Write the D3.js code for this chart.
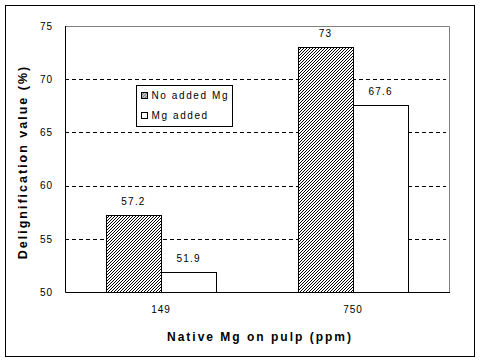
<!DOCTYPE html>
<html>
<head>
<meta charset="utf-8">
<script src="https://cdn.jsdelivr.net/npm/d3@7"></script>
<style>
  body { margin: 0; background: #fff; }
  text { font-family: Arial, "Liberation Sans", sans-serif; }
</style>
</head>
<body>
<div id="chart"></div>
<script>
// data
var categories = ['149', '750'];
var seriesNames = ['No added Mg', 'Mg added'];
var noAddedMg = [57.2, 73];
var mgAdded = [51.9, 67.6];
var yTicks = [50, 55, 60, 65, 70, 75];

var w = 480, h = 363;
var plotLeft = 65, plotRight = 449, plotTop = 26, plotBottom = 292;

var svg = d3.select('#chart').append('svg')
    .attr('width', w)
    .attr('height', h);

svg.append('rect').attr('width', w).attr('height', h).attr('fill', '#fff');

// hatch pattern for the first series: 1px pixel diagonal in a 3x3 tile
var defs = svg.append('defs');
var pat = defs.append('pattern')
    .attr('id', 'hatch')
    .attr('patternUnits', 'userSpaceOnUse')
    .attr('width', 3).attr('height', 3);
pat.append('rect').attr('width', 3).attr('height', 3).attr('fill', '#fff');
pat.selectAll('rect.px').data([[0, 2], [1, 1], [2, 0]]).enter().append('rect')
    .attr('class', 'px')
    .attr('x', function (d) { return d[0]; })
    .attr('y', function (d) { return d[1]; })
    .attr('width', 1).attr('height', 1)
    .attr('fill', '#000')
    .attr('shape-rendering', 'crispEdges');

// outer frame
svg.append('rect')
    .attr('x', 5.5).attr('y', 5.5)
    .attr('width', 469).attr('height', 351)
    .attr('fill', 'none').attr('stroke', '#000');

var y = d3.scaleLinear().domain([50, 75]).range([plotBottom, plotTop]);
var x0 = d3.scaleBand().domain(categories).range([plotLeft, plotRight])
    .paddingInner(0.427).paddingOuter(0.2135);
var x1 = d3.scaleBand().domain(seriesNames).range([0, x0.bandwidth()]);

// plot frame: gray top/right
svg.append('path')
    .attr('d', 'M' + plotLeft + ',' + (plotTop + 0.5) + 'H' + (plotRight + 0.5) + 'V' + plotBottom)
    .attr('fill', 'none').attr('stroke', '#808080');

// dashed gridlines
svg.append('g').selectAll('line')
    .data(yTicks.filter(function (d) { return d > 50 && d < 75; }))
    .enter().append('line')
    .attr('x1', plotLeft).attr('x2', plotRight - 3)
    .attr('y1', function (d) { return Math.round(y(d)) + 0.5; })
    .attr('y2', function (d) { return Math.round(y(d)) + 0.5; })
    .attr('stroke', '#000')
    .attr('stroke-dasharray', '4,3');

// bars
var rows = categories.map(function (c, i) {
    return { cat: c, vals: [noAddedMg[i], mgAdded[i]] };
});
var groups = svg.append('g').selectAll('g')
    .data(rows).enter().append('g')
    .attr('transform', function (d) { return 'translate(' + Math.round(x0(d.cat)) + ',0)'; });

groups.selectAll('rect')
    .data(function (d) { return d.vals.map(function (v, j) { return { s: seriesNames[j], v: v, j: j }; }); })
    .enter().append('rect')
    .attr('x', function (d) { return Math.round(x1(d.s)) + 0.5; })
    .attr('y', function (d) { return Math.round(y(d.v)) + 0.5; })
    .attr('width', Math.round(x1.bandwidth()))
    .attr('height', function (d) { return plotBottom - Math.round(y(d.v)); })
    .attr('fill', function (d) { return d.j === 0 ? 'url(#hatch)' : '#fff'; })
    .attr('stroke', '#000');

groups.selectAll('text')
    .data(function (d) { return d.vals.map(function (v, j) { return { s: seriesNames[j], v: v }; }); })
    .enter().append('text')
    .attr('x', function (d) { return x1(d.s) + x1.bandwidth() / 2; })
    .attr('y', function (d) { return y(d.v) - 10; })
    .attr('text-anchor', 'middle')
    .attr('font-size', 10)
    .attr('letter-spacing', 1.2)
    .text(function (d) { return d.v; });

// axes lines: black left and bottom
svg.append('path')
    .attr('d', 'M' + (plotLeft + 0.5) + ',' + plotTop + 'V' + (plotBottom + 0.5) + 'H' + (plotRight + 1))
    .attr('fill', 'none').attr('stroke', '#000');

// y tick labels
var yAxis = d3.axisLeft(y).tickValues(yTicks).tickSize(0).tickPadding(12);
var gy = svg.append('g').attr('transform', 'translate(' + plotLeft + ',0)').call(yAxis);
gy.select('.domain').remove();
gy.selectAll('text')
    .attr('font-size', 10)
    .attr('letter-spacing', 1)
    .attr('fill', '#000')
    .style('font-family', 'Arial, "Liberation Sans", sans-serif');

// x tick labels
var xAxis = d3.axisBottom(x0).tickSize(0).tickPadding(14);
var gx = svg.append('g').attr('transform', 'translate(0,' + plotBottom + ')').call(xAxis);
gx.select('.domain').remove();
gx.selectAll('text')
    .attr('font-size', 10)
    .attr('letter-spacing', 1)
    .attr('fill', '#000')
    .style('font-family', 'Arial, "Liberation Sans", sans-serif');

// axis titles
svg.append('text')
    .attr('x', 260).attr('y', 341)
    .attr('text-anchor', 'middle')
    .attr('font-size', 12).attr('font-weight', 'bold')
    .attr('letter-spacing', 2)
    .text('Native Mg on pulp (ppm)');

svg.append('text')
    .attr('transform', 'translate(27,162) rotate(-90)')
    .attr('text-anchor', 'middle')
    .attr('font-size', 12.5).attr('font-weight', 'bold')
    .attr('letter-spacing', 2)
    .text('Delignification value (%)');

// legend
var lg = svg.append('g').attr('transform', 'translate(136.5,85.5)');
lg.append('rect').attr('width', 96).attr('height', 41)
    .attr('fill', '#fff').attr('stroke', '#000');
var items = lg.selectAll('g.item').data(seriesNames).enter().append('g')
    .attr('transform', function (d, i) { return 'translate(5,' + (7 + i * 20) + ')'; });
items.append('rect')
    .attr('width', 6).attr('height', 6)
    .attr('fill', function (d, i) { return i === 0 ? 'url(#hatch)' : '#fff'; })
    .attr('stroke', '#000');
items.append('text')
    .attr('x', 10).attr('y', 6)
    .attr('font-size', 10)
    .attr('letter-spacing', 1.6)
    .text(function (d) { return d; });
</script>
</body>
</html>
